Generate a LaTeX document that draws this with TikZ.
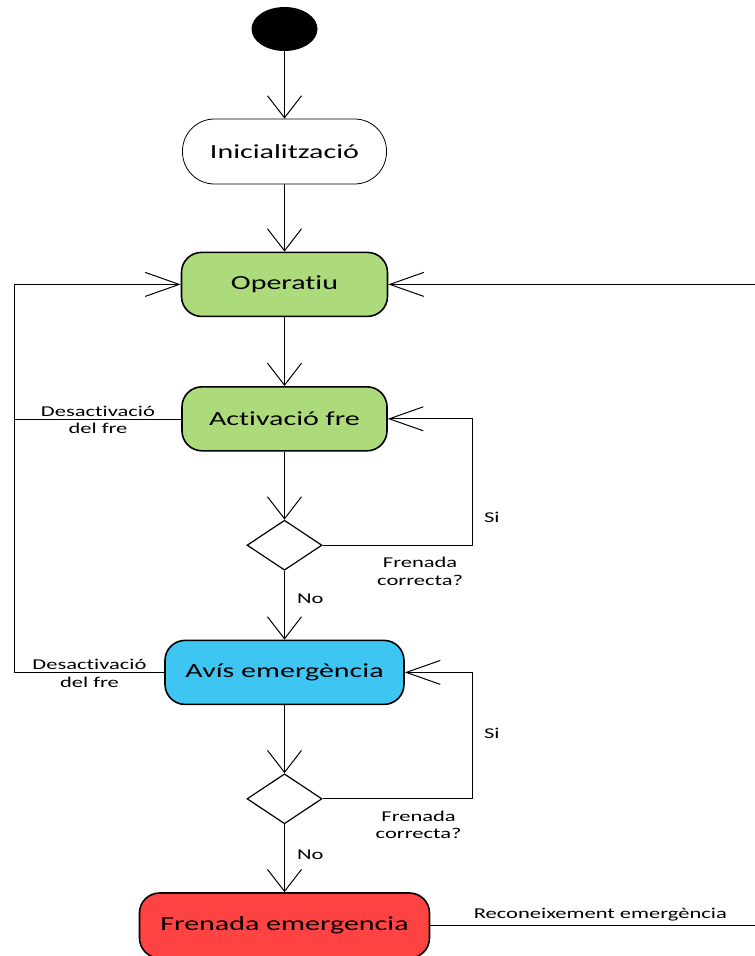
\documentclass[tikz,border=0pt]{standalone}
\usepackage{fontspec}
\setmainfont{Carlito}[Ligatures={NoCommon,NoContextual}]
\usetikzlibrary{positioning,shapes.geometric,arrows.meta,calc}
\definecolor{opgreen}{HTML}{ADDB7C}
\definecolor{avisblue}{HTML}{3FC5F2}
\definecolor{emred}{HTML}{FF4242}
\newcommand{\widetext}[1]{\scalebox{1.5}[1]{#1}}
\tikzstyle{state} = [rectangle, draw, line width=1.6pt, rounded corners=20pt, minimum height=64pt, inner sep=0pt, font=\fontsize{20}{24}\selectfont]
\tikzstyle{decision} = [diamond, draw, line width=1.2pt, minimum width=75pt, minimum height=50pt, inner sep=0pt]
\tikzstyle{guard} = [inner sep=0pt, align=center, font=\fontsize{15}{17.5}\selectfont]
\tikzstyle{vflow} = [line width=1pt, -{Straight Barb[length=22pt,width=34pt]}]
\tikzstyle{hflow} = [line width=1pt, -{Straight Barb[length=34pt,width=24pt]}]

\begin{document}
\begin{tikzpicture}
        \clip (0,0) rectangle (755pt,-956pt);
        \node (start) [ellipse, fill=black, minimum width=66pt, minimum height=44pt, inner sep=0pt] at (284.5pt,-29pt) {};
        \node (init) [state, below=67.4pt of start, minimum width=204pt, minimum height=65pt, rounded corners=32pt, line width=0.8pt] {\widetext{Inicialització}};
        \node (operatiu) [state, fill=opgreen, below=67.2pt of init, minimum width=206pt] {\widetext{Operatiu}};
        \node (activacio) [state, fill=opgreen, below=68.8pt of operatiu, minimum width=205pt] {\widetext{Activació fre}};
        \node (decision-1) [decision, below=68pt of activacio] {};
        \node (avis) [state, fill=avisblue, below=68.8pt of decision-1, minimum width=239pt] {\widetext{Avís emergència}};
        \node (decision-2) [decision, below=68pt of avis] {};
        \node (frenada) [state, fill=emred, below=67.8pt of decision-2, minimum width=290pt, minimum height=65pt] {\widetext{Frenada emergencia}};
        \coordinate (left-rail) at ($(operatiu.west)+(-166pt,0)$);
        \coordinate (right-rail) at ($(operatiu.east)+(382pt,0)$);
        \coordinate (loop-1) at ($(decision-1.east)+(150pt,0)$);
        \coordinate (loop-2) at ($(decision-2.east)+(150pt,0)$);
        \draw [vflow] (start) -- (init);
        \draw [vflow] (init) -- (operatiu);
        \draw [vflow] (operatiu) -- (activacio);
        \draw [vflow] (activacio) -- (decision-1);
        \draw [vflow] (decision-1) -- node[guard, pos=0.4, anchor=west, xshift=12pt] {\widetext{No}} (avis);
        \draw [vflow] (avis) -- (decision-2);
        \draw [vflow] (decision-2) -- node[guard, pos=0.45, anchor=west, xshift=12pt] {\widetext{No}} (frenada);
        \draw [hflow] (decision-1.east) -- node[guard, pos=0.65, yshift=-26pt] {\widetext{Frenada}\\\widetext{correcta?}} (loop-1)
                            -- node[guard, pos=0.22, anchor=west, xshift=11pt] {\widetext{Si}} (loop-1 |- activacio.east) -- (activacio.east);
        \draw [hflow] (decision-2.east) -- node[guard, pos=0.64, yshift=-26pt] {\widetext{Frenada}\\\widetext{correcta?}} (loop-2)
                            -- node[guard, pos=0.52, anchor=west, xshift=11pt] {\widetext{Si}} (loop-2 |- avis.east) -- (avis.east);
        \draw (activacio.west) -- node[guard, yshift=-1pt] {\widetext{Desactivació}\\\widetext{del fre}} (activacio.west -| left-rail);
        \draw [hflow] (avis.west) -- node[guard, yshift=-1pt] {\widetext{Desactivació}\\\widetext{del fre}} (avis.west -| left-rail)
                            -- (left-rail) -- (operatiu.west);
        \draw [hflow] (frenada.east) -- node[guard, anchor=base, yshift=7pt] {\widetext{Reconeixement emergència}} (frenada.east -| right-rail)
                            -- (right-rail) -- (operatiu.east);
    \end{tikzpicture}
\end{document}
